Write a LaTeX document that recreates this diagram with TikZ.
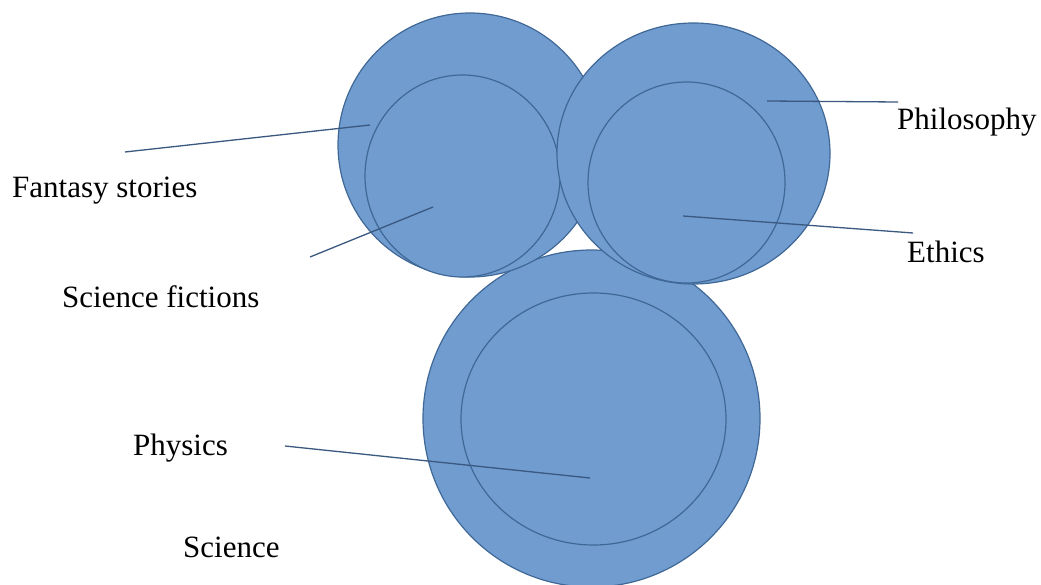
\documentclass[tikz,border=0pt]{standalone}
\usepackage{fontspec}
\setmainfont{Liberation Serif}
\usetikzlibrary{shapes.geometric}

\definecolor{discfill}{RGB}{112,156,208}
\definecolor{discdraw}{RGB}{64,104,150}
\definecolor{leadcol}{RGB}{58,88,128}

\begin{document}
\begin{tikzpicture}[
    x=1pt, y=-1pt,
    disc/.style={ellipse, draw=discdraw, fill=discfill, line width=1.2pt, inner sep=0pt},
    leader/.style={draw=leadcol, line width=1.3pt},
    tag/.style={anchor=base west, inner sep=0pt, font=\fontsize{31}{37}\selectfont}
]
\useasboundingbox (0,0) rectangle (1041,585);

% Science group
\node[disc, minimum width=337pt, minimum height=337pt] (science) at (591.5,418.5) {};
\node[disc, minimum width=265pt, minimum height=252pt] (physics) at (593.5,419) {};

% Fantasy group
\node[disc, minimum width=264pt, minimum height=264pt] (fantasy) at (470,145) {};
\node[disc, minimum width=195pt, minimum height=202pt] (scifi) at (462.5,176) {};

% Philosophy group
\node[disc, minimum width=273pt, minimum height=261pt] (philosophy) at (693.5,153.5) {};
\node[disc, minimum width=197pt, minimum height=201pt] (ethics) at (686.5,182.5) {};

% Labels
\node[tag] (fantasyTag) at (12,198) {Fantasy stories};
\node[tag] (scifiTag) at (62,308) {Science fictions};
\node[tag] (philosophyTag) at (897,130) {Philosophy};
\node[tag] (ethicsTag) at (907,262) {Ethics};
\node[tag] (physicsTag) at (133,455) {Physics};
\node[tag] (scienceTag) at (183,557) {Science};

% Leader lines
\coordinate (fantasyEnd) at (125,152);
\coordinate (fantasyTip) at (370,125);
\coordinate (scifiEnd) at (310,257);
\coordinate (scifiTip) at (433,207);
\coordinate (philosophyEnd) at (898,102);
\coordinate (philosophyTip) at (767,101);
\coordinate (ethicsEnd) at (913,233);
\coordinate (ethicsTip) at (683,216);
\coordinate (physicsEnd) at (285,446);
\coordinate (physicsTip) at (590,478);

\draw[leader] (fantasyEnd) -- (fantasyTip);
\draw[leader] (scifiEnd) -- (scifiTip);
\draw[leader] (philosophyEnd) -- (philosophyTip);
\draw[leader] (ethicsEnd) -- (ethicsTip);
\draw[leader] (physicsEnd) -- (physicsTip);

\end{tikzpicture}
\end{document}
